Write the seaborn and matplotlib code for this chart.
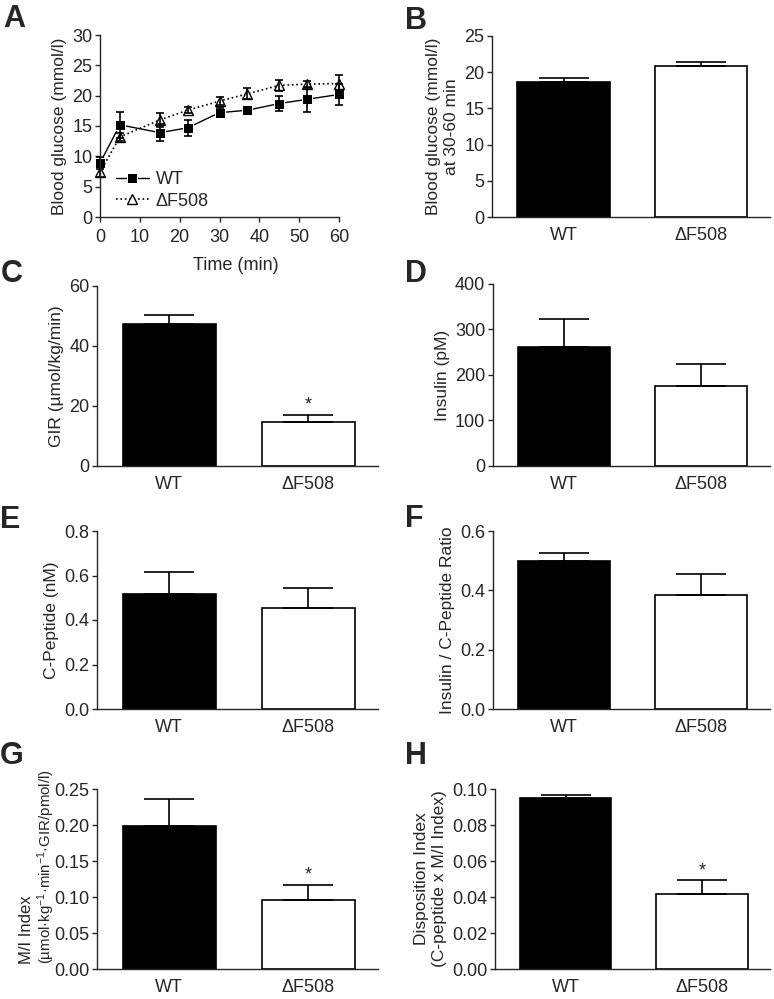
import numpy as np
import pandas as pd
import matplotlib
matplotlib.use("Agg")
import matplotlib.pyplot as plt
import seaborn as sns
from matplotlib.ticker import FormatStrFormatter

# Panel A: blood glucose time course
time_min = [0, 5, 15, 22, 30, 37, 45, 52, 60]
wt_glucose = [8.9, 15.2, 13.9, 14.7, 17.2, 17.6, 18.7, 19.4, 20.2]
wt_glucose_err = [1.0, 2.1, 1.4, 1.3, 0.7, 0.6, 1.2, 2.1, 1.7]
df_glucose = [7.4, 13.2, 16.0, 17.6, 19.1, 20.3, 21.7, 21.9, 22.0]
df_glucose_err = [0.8, 0.7, 1.1, 0.5, 0.6, 0.9, 0.9, 0.6, 1.4]

groups = ["WT", "\u0394F508"]

# Bar panels B-H: means and SEM (upper bars only)
glucose_means = [18.7, 20.85]
glucose_err = [0.5, 0.55]
gir_means = [47.2, 14.7]
gir_err = [3.0, 2.3]
insulin_means = [262, 175]
insulin_err = [62, 50]
cpep_means = [0.517, 0.455]
cpep_err = [0.10, 0.087]
ratio_means = [0.498, 0.383]
ratio_err = [0.029, 0.071]
mi_means = [0.199, 0.0965]
mi_err = [0.0375, 0.02]
di_means = [0.095, 0.0414]
di_err = [0.0015, 0.0078]

sns.set_style("ticks")
plt.rcParams["font.family"] = ["Liberation Sans", "DejaVu Sans"]
plt.rcParams["mathtext.default"] = "regular"
plt.rcParams["axes.linewidth"] = 1.0
plt.rcParams["xtick.major.width"] = 1.0
plt.rcParams["ytick.major.width"] = 1.0
plt.rcParams["xtick.major.size"] = 3.5
plt.rcParams["ytick.major.size"] = 3.5

TICK_FS = 13
LABEL_FS = 12.5
W, H = 774, 999

fig = plt.figure(figsize=(W / 100, H / 100), dpi=100)


def add_axes(x0, x1, ytop, ybot):
    # pixel box -> figure fraction
    return fig.add_axes([x0 / W, 1 - ybot / H, (x1 - x0) / W, (ybot - ytop) / H])


def bar_panel(ax, means, errs, ylabel, yticks, fmt, star=False):
    data = pd.DataFrame({"group": groups, "value": means})
    sns.barplot(data=data, x="group", y="value", hue="group", palette=["black", "white"],
                edgecolor="black", linewidth=1.2, width=0.67, legend=False, ax=ax)
    ax.errorbar([0, 1], means, yerr=[[0, 0], errs], fmt="none", ecolor="black",
                elinewidth=1.2, capsize=18, capthick=1.2)
    if star:
        ax.annotate("*", xy=(1, means[1] + errs[1]), xytext=(0, 1), textcoords="offset points",
                    ha="center", va="bottom", fontsize=13)
    ax.set_xlim(-0.52, 1.5)
    ax.set_ylim(yticks[0], yticks[-1])
    ax.set_yticks(yticks)
    ax.yaxis.set_major_formatter(FormatStrFormatter(fmt))
    ax.set_xlabel("")
    if ylabel:
        ax.set_ylabel(ylabel, fontsize=LABEL_FS, labelpad=4)
    else:
        ax.set_ylabel("")
    ax.tick_params(axis="x", length=0, labelsize=TICK_FS, pad=7)
    ax.tick_params(axis="y", labelsize=TICK_FS, pad=2)
    sns.despine(ax=ax)


# A
axA = add_axes(100, 339, 35, 217)
sns.lineplot(x=time_min, y=wt_glucose, ax=axA, color="black", marker="s", markersize=7.5,
             linewidth=1.0, label="WT", clip_on=False)
sns.lineplot(x=time_min, y=df_glucose, ax=axA, color="black", marker="^", markersize=7.5,
             markerfacecolor="white", markeredgecolor="black", markeredgewidth=1.0,
             linestyle=":", linewidth=1.2, label="\u0394F508", clip_on=False)
axA.errorbar(time_min, wt_glucose, yerr=wt_glucose_err, fmt="none", ecolor="black",
             elinewidth=1.2, capsize=3, capthick=1.2, clip_on=False)
axA.errorbar(time_min, df_glucose, yerr=df_glucose_err, fmt="none", ecolor="black",
             elinewidth=1.2, capsize=3, capthick=1.2, clip_on=False)
axA.set_xlim(0, 60)
axA.set_ylim(0, 30)
axA.set_xticks(range(0, 61, 10))
axA.set_yticks(range(0, 31, 5))
axA.set_xlabel("Time (min)", fontsize=TICK_FS, labelpad=8)
axA.xaxis.label.set_x(0.57)
axA.set_ylabel("Blood glucose (mmol/l)", fontsize=LABEL_FS, labelpad=4)
axA.tick_params(labelsize=TICK_FS, pad=2)
axA.tick_params(axis="x", pad=5)
axA.legend(loc="lower left", bbox_to_anchor=(0.06, 0.03), frameon=False, fontsize=TICK_FS,
           handlelength=1.8, handletextpad=0.4, labelspacing=0.25, borderaxespad=0.0,
           borderpad=0.1)
sns.despine(ax=axA)

# B
axB = add_axes(492, 770, 36, 217)
bar_panel(axB, glucose_means, glucose_err, "Blood glucose (mmol/l)\nat 30-60 min",
          [0, 5, 10, 15, 20, 25], "%d")

# C
axC = add_axes(97, 378, 286, 466)
bar_panel(axC, gir_means, gir_err, "GIR (\u00b5mol/kg/min)", [0, 20, 40, 60], "%d", star=True)

# D
axD = add_axes(493, 770, 284, 466)
bar_panel(axD, insulin_means, insulin_err, "Insulin (pM)", [0, 100, 200, 300, 400], "%d")

# E
axE = add_axes(97, 378, 531, 709)
bar_panel(axE, cpep_means, cpep_err, "C-Peptide (nM)", [0.0, 0.2, 0.4, 0.6, 0.8], "%.1f")

# F
axF = add_axes(493, 770, 531, 709)
bar_panel(axF, ratio_means, ratio_err, "Insulin / C-Peptide Ratio", [0.0, 0.2, 0.4, 0.6], "%.1f")

# G (two-line label, lines aligned at the bottom, second line smaller)
axG = add_axes(97, 378, 789, 969)
bar_panel(axG, mi_means, mi_err, None,
          [0.0, 0.05, 0.10, 0.15, 0.20, 0.25], "%.2f", star=True)
axG.text(-0.252, 0.03, "M/I Index", transform=axG.transAxes, rotation=90,
         ha="center", va="bottom", fontsize=12)
axG.text(-0.18, 0.03, "(\u00b5mol\u00b7kg$^{-1}$\u00b7min$^{-1}$\u00b7GIR/pmol/l)",
         transform=axG.transAxes, rotation=90, ha="center", va="bottom", fontsize=10.8)

# H
axH = add_axes(495, 770, 789, 969)
bar_panel(axH, di_means, di_err, "Disposition Index\n(C-peptide x M/I Index)",
          [0.0, 0.02, 0.04, 0.06, 0.08, 0.10], "%.2f", star=True)

# panel letters
letters = [("A", 3, 4), ("B", 405, 6), ("C", 1, 259), ("D", 405, 259),
           ("E", 0, 505), ("F", 405, 504), ("G", 0, 741), ("H", 405, 741)]
for letter, px, py in letters:
    fig.text(px / W, 1 - py / H, letter, fontsize=22, fontweight="bold", va="top", ha="left")

fig.savefig("out.png", dpi=100)
